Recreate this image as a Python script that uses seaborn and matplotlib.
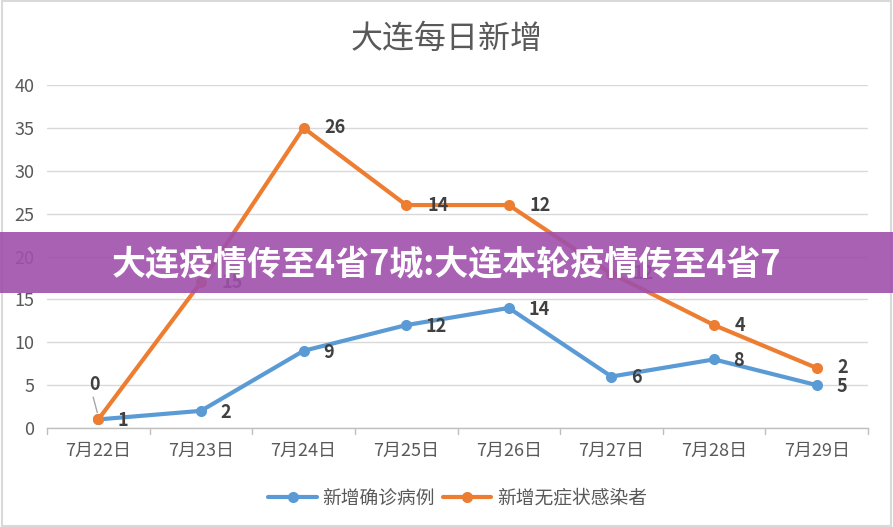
import matplotlib
matplotlib.use("Agg")
import matplotlib.pyplot as plt
import seaborn as sns
import numpy as np
import pandas as pd
from matplotlib.patches import Rectangle

dates = ["7月22日", "7月23日", "7月24日", "7月25日", "7月26日", "7月27日", "7月28日", "7月29日"]
confirmed = [1, 2, 9, 12, 14, 6, 8, 5]
asymptomatic = [0, 15, 26, 14, 12, 12, 4, 2]
series_names = ["新增确诊病例", "新增无症状感染者"]
title = "大连每日新增"
banner = "大连疫情传至4省7城:大连本轮疫情传至4省7"

sns.set_theme(style="white")
plt.rcParams['font.family'] = ['Noto Sans CJK SC', 'DejaVu Sans']

blue = "#5B9BD5"
orange = "#ED7D31"
txt = "#595959"

stacked = np.array(confirmed) + np.array(asymptomatic)
x = np.arange(len(dates))
df = pd.DataFrame({
    "x": np.concatenate([x, x]),
    "y": np.concatenate([confirmed, stacked]),
    "s": [series_names[0]] * len(x) + [series_names[1]] * len(x),
})

fig = plt.figure(figsize=(8.93, 5.27), dpi=100)
ax = fig.add_axes([47 / 893, 1 - 428 / 527, (868 - 47) / 893, (428 - 85) / 527])

sns.lineplot(data=df, x="x", y="y", hue="s", palette=[blue, orange], marker="o",
             markersize=8, markeredgewidth=0, linewidth=3, ax=ax, legend=True, zorder=3)

ax.set_xlim(-0.5, len(dates) - 0.5)
ax.set_ylim(0, 40)
ax.set_yticks(range(0, 41, 5))
ax.set_xticks(x)
ax.set_xticklabels(dates)
ax.tick_params(axis="y", labelsize=13, colors=txt, length=0, pad=9)
ax.tick_params(axis="x", labelsize=13, colors=txt, length=0, pad=10)
ax.set_xlabel("")
ax.set_ylabel("")
ax.yaxis.grid(True, color="#D9D9D9", linewidth=1)
ax.set_axisbelow(True)
for sp in ["top", "right", "left"]:
    ax.spines[sp].set_visible(False)
ax.spines["bottom"].set_color("#BFBFBF")
ax.spines["bottom"].set_linewidth(1)
for b in np.arange(-0.5, len(dates), 1.0):
    ax.plot([b, b], [0, -0.7], color="#BFBFBF", lw=1, clip_on=False)

# data labels
for i in range(len(dates)):
    ax.annotate(str(confirmed[i]), (x[i], confirmed[i]), xytext=(14, -1), textcoords="offset points",
                ha="left", va="center", fontsize=13, fontweight="bold", color="#404040")
for i in range(len(dates)):
    if i == 0:
        ax.annotate(str(asymptomatic[i]), (x[i], stacked[i]), xytext=(-3, 25), textcoords="offset points",
                    ha="center", va="center", fontsize=13, fontweight="bold", color="#404040")
        ax.plot([x[i] - 0.05, x[i] - 0.01], [3.6, 1.8], color="#A6A6A6", lw=1, zorder=2)
    else:
        ax.annotate(str(asymptomatic[i]), (x[i], stacked[i]), xytext=(15, 0), textcoords="offset points",
                    ha="left", va="center", fontsize=13, fontweight="bold", color="#404040")

leg = ax.legend(loc="upper center", bbox_to_anchor=(0.5, -0.125), ncol=2, frameon=False,
                fontsize=13.5, handlelength=2.6, columnspacing=0.4, handletextpad=0.3)
for t in leg.get_texts():
    t.set_color(txt)

fig.text(447 / 893, 1 - 39 / 527, title, ha="center", va="center", fontsize=23, color=txt)

# outer border
fig.patches.append(Rectangle((0.002, 0.002), 0.996, 0.996, transform=fig.transFigure,
                             fill=False, edgecolor="#D9D9D9", linewidth=1.5))

# overlay banner
fig.patches.append(Rectangle((0, 1 - 293 / 527), 1, 61 / 527, transform=fig.transFigure,
                             facecolor="#A050AC", alpha=0.9, edgecolor="none", zorder=10))
fig.text(447 / 893, 1 - 265 / 527, banner, ha="center", va="center", fontsize=24.5,
         fontweight="bold", color="white", zorder=11)

fig.savefig("out.png", dpi=100)
